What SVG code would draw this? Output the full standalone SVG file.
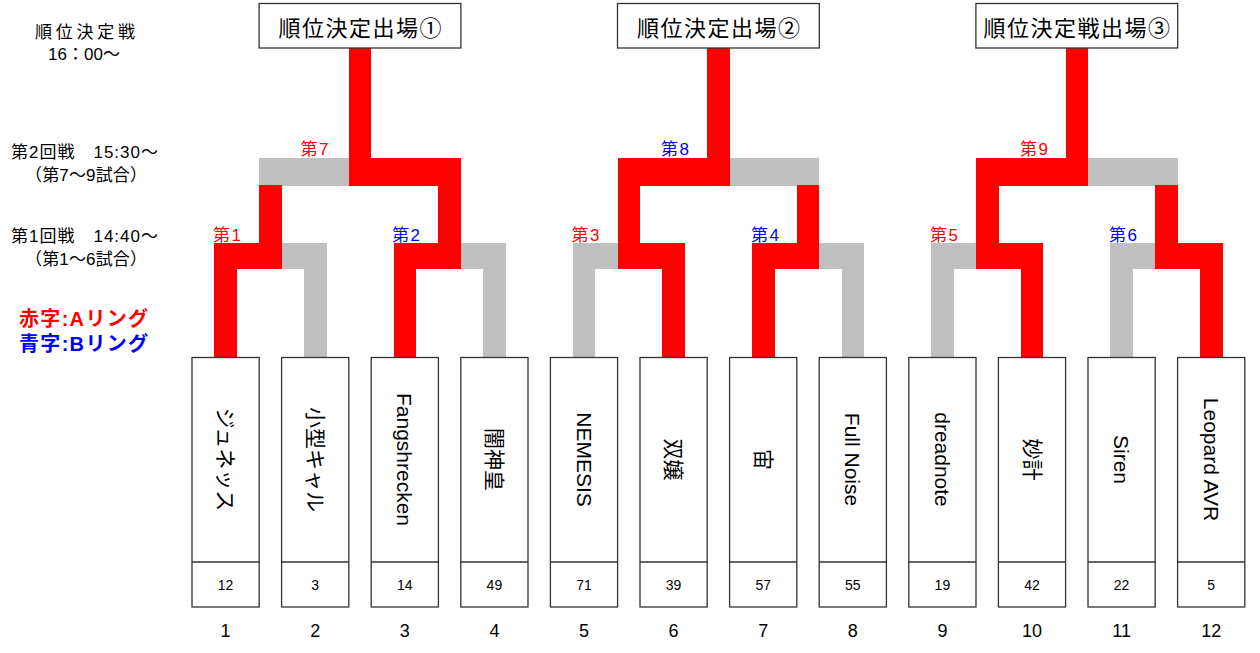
<svg xmlns="http://www.w3.org/2000/svg" width="1260" height="653" viewBox="0 0 1260 653">
<style>
text{font-family:"Liberation Sans","Noto Sans CJK JP",sans-serif;fill:#000}
.g{fill:#BFBFBF}
.r{fill:#FF0000}
.box{fill:#fff;stroke:#333;stroke-width:1.3}
.name{font-size:21px;text-anchor:middle;dominant-baseline:central}
.seed{font-size:14px;text-anchor:middle;dominant-baseline:central}
.pos{font-size:18px;text-anchor:middle}
.lbl{font-size:17px;letter-spacing:1.5px}
.red{fill:#FF0000}
.blue{fill:#0000FF}
.side{font-size:17px;text-anchor:middle}
.top{font-size:22px;text-anchor:middle;dominant-baseline:central;letter-spacing:1.5px;font-family:"Noto Sans CJK JP","Liberation Sans",sans-serif}
</style>
<rect width="1260" height="653" fill="#fff"/>

<g id="connectors" shape-rendering="crispEdges">
  <rect class="g" x="214.3" y="243" width="112.2" height="26"/>
  <rect class="g" x="393.5" y="243" width="112.2" height="26"/>
  <rect class="g" x="572.7" y="243" width="112.2" height="26"/>
  <rect class="g" x="751.9" y="243" width="112.2" height="26"/>
  <rect class="g" x="931.1" y="243" width="112.2" height="26"/>
  <rect class="g" x="1110.3" y="243" width="112.2" height="26"/>
  <rect class="g" x="259.1" y="158" width="201.8" height="28"/>
  <rect class="g" x="617.5" y="158" width="201.8" height="28"/>
  <rect class="g" x="975.9" y="158" width="201.8" height="28"/>
  <rect class="g" x="303.9" y="268" width="22.6" height="89.5"/>
  <rect class="g" x="483.1" y="268" width="22.6" height="89.5"/>
  <rect class="g" x="572.7" y="268" width="22.6" height="89.5"/>
  <rect class="g" x="841.5" y="268" width="22.6" height="89.5"/>
  <rect class="g" x="931.1" y="268" width="22.6" height="89.5"/>
  <rect class="g" x="1110.3" y="268" width="22.6" height="89.5"/>
  <rect class="r" x="214.3" y="268" width="22.6" height="89.5"/>
  <rect class="r" x="393.5" y="268" width="22.6" height="89.5"/>
  <rect class="r" x="662.3" y="268" width="22.6" height="89.5"/>
  <rect class="r" x="751.9" y="268" width="22.6" height="89.5"/>
  <rect class="r" x="1020.7" y="268" width="22.6" height="89.5"/>
  <rect class="r" x="1199.9" y="268" width="22.6" height="89.5"/>
  <rect class="r" x="214.3" y="243" width="67.4" height="26"/>
  <rect class="r" x="393.5" y="243" width="67.4" height="26"/>
  <rect class="r" x="617.5" y="243" width="67.4" height="26"/>
  <rect class="r" x="751.9" y="243" width="67.4" height="26"/>
  <rect class="r" x="975.9" y="243" width="67.4" height="26"/>
  <rect class="r" x="1155.1" y="243" width="67.4" height="26"/>
  <rect class="r" x="259.1" y="185" width="22.6" height="59"/>
  <rect class="r" x="438.3" y="185" width="22.6" height="59"/>
  <rect class="r" x="617.5" y="185" width="22.6" height="59"/>
  <rect class="r" x="796.7" y="185" width="22.6" height="59"/>
  <rect class="r" x="975.9" y="185" width="22.6" height="59"/>
  <rect class="r" x="1155.1" y="185" width="22.6" height="59"/>
  <rect class="r" x="348.7" y="158" width="112.2" height="28"/>
  <rect class="r" x="617.5" y="158" width="112.2" height="28"/>
  <rect class="r" x="975.9" y="158" width="112.2" height="28"/>
  <rect class="r" x="348.7" y="48" width="22.6" height="111"/>
  <rect class="r" x="707.1" y="48" width="22.6" height="111"/>
  <rect class="r" x="1065.5" y="48" width="22.6" height="111"/>
</g>

<g id="match-labels" class="lbl">
  <text class="red" x="213" y="240.5">第1</text>
  <text class="blue" x="392" y="240.5">第2</text>
  <text class="red" x="571.5" y="240.5">第3</text>
  <text class="blue" x="751" y="240.5">第4</text>
  <text class="red" x="930" y="240.5">第5</text>
  <text class="blue" x="1109" y="240.5">第6</text>
  <text class="red" x="300.5" y="155">第7</text>
  <text class="blue" x="661" y="155">第8</text>
  <text class="red" x="1020" y="155">第9</text>
</g>

<g id="legend">
  <text class="side" x="85" y="38" textLength="100" lengthAdjust="spacing">順位決定戦</text>
  <text class="side" x="84" y="60">16：00～</text>
  <text class="side" x="84.5" y="158" textLength="147" lengthAdjust="spacing">第2回戦　15:30～</text>
  <text class="side" x="86" y="181" textLength="122" lengthAdjust="spacing">（第7～9試合）</text>
  <text class="side" x="84.5" y="241.5" textLength="147" lengthAdjust="spacing">第1回戦　14:40～</text>
  <text class="side" x="86" y="264.5" textLength="122" lengthAdjust="spacing">（第1～6試合）</text>
  <text class="side red" x="83.5" y="326" style="font-size:20px;font-weight:bold" textLength="129" lengthAdjust="spacing">赤字:Aリング</text>
  <text class="side blue" x="83.5" y="351" style="font-size:20px;font-weight:bold" textLength="129" lengthAdjust="spacing">青字:Bリング</text>
</g>

<g id="final1"><rect class="box" x="259.1" y="3.5" width="201.8" height="44.5"/><text class="top" x="360.75" y="25.5">順位決定出場①</text></g>
<g id="final2"><rect class="box" x="617.5" y="3.5" width="201.8" height="44.5"/><text class="top" x="719.15" y="25.5">順位決定出場②</text></g>
<g id="final3"><rect class="box" x="975.9" y="3.5" width="201.8" height="44.5"/><text class="top" x="1077.55" y="25.5">順位決定戦出場③</text></g>

<g id="team1"><rect class="box" x="192" y="357.5" width="67.2" height="249.5"/><line x1="192" y1="562" x2="259.2" y2="562" stroke="#333" stroke-width="1.3"/><text class="name" transform="translate(225.6,459.5) rotate(90)">ジュネッス</text><text class="seed" x="225.6" y="584.5">12</text><text class="pos" x="225.6" y="637">1</text></g>
<g id="team2"><rect class="box" x="281.6" y="357.5" width="67.2" height="249.5"/><line x1="281.6" y1="562" x2="348.8" y2="562" stroke="#333" stroke-width="1.3"/><text class="name" transform="translate(315.2,459.5) rotate(90)">小型キャル</text><text class="seed" x="315.2" y="584.5">3</text><text class="pos" x="315.2" y="637">2</text></g>
<g id="team3"><rect class="box" x="371.2" y="357.5" width="67.2" height="249.5"/><line x1="371.2" y1="562" x2="438.4" y2="562" stroke="#333" stroke-width="1.3"/><text class="name" transform="translate(404.8,459.5) rotate(90)">Fangshrecken</text><text class="seed" x="404.8" y="584.5">14</text><text class="pos" x="404.8" y="637">3</text></g>
<g id="team4"><rect class="box" x="460.8" y="357.5" width="67.2" height="249.5"/><line x1="460.8" y1="562" x2="528" y2="562" stroke="#333" stroke-width="1.3"/><text class="name" transform="translate(494.4,459.5) rotate(90)">闇神皇</text><text class="seed" x="494.4" y="584.5">49</text><text class="pos" x="494.4" y="637">4</text></g>
<g id="team5"><rect class="box" x="550.4" y="357.5" width="67.2" height="249.5"/><line x1="550.4" y1="562" x2="617.6" y2="562" stroke="#333" stroke-width="1.3"/><text class="name" transform="translate(584,459.5) rotate(90)">NEMESIS</text><text class="seed" x="584" y="584.5">71</text><text class="pos" x="584" y="637">5</text></g>
<g id="team6"><rect class="box" x="640" y="357.5" width="67.2" height="249.5"/><line x1="640" y1="562" x2="707.2" y2="562" stroke="#333" stroke-width="1.3"/><text class="name" transform="translate(673.6,459.5) rotate(90)">双嬢</text><text class="seed" x="673.6" y="584.5">39</text><text class="pos" x="673.6" y="637">6</text></g>
<g id="team7"><rect class="box" x="729.6" y="357.5" width="67.2" height="249.5"/><line x1="729.6" y1="562" x2="796.8" y2="562" stroke="#333" stroke-width="1.3"/><text class="name" transform="translate(763.2,459.5) rotate(90)">宙</text><text class="seed" x="763.2" y="584.5">57</text><text class="pos" x="763.2" y="637">7</text></g>
<g id="team8"><rect class="box" x="819.2" y="357.5" width="67.2" height="249.5"/><line x1="819.2" y1="562" x2="886.4" y2="562" stroke="#333" stroke-width="1.3"/><text class="name" transform="translate(852.8,459.5) rotate(90)">Full Noise</text><text class="seed" x="852.8" y="584.5">55</text><text class="pos" x="852.8" y="637">8</text></g>
<g id="team9"><rect class="box" x="908.8" y="357.5" width="67.2" height="249.5"/><line x1="908.8" y1="562" x2="976" y2="562" stroke="#333" stroke-width="1.3"/><text class="name" transform="translate(942.4,459.5) rotate(90)">dreadnote</text><text class="seed" x="942.4" y="584.5">19</text><text class="pos" x="942.4" y="637">9</text></g>
<g id="team10"><rect class="box" x="998.4" y="357.5" width="67.2" height="249.5"/><line x1="998.4" y1="562" x2="1065.6" y2="562" stroke="#333" stroke-width="1.3"/><text class="name" transform="translate(1032,459.5) rotate(90)">妙計</text><text class="seed" x="1032" y="584.5">42</text><text class="pos" x="1032" y="637">10</text></g>
<g id="team11"><rect class="box" x="1088" y="357.5" width="67.2" height="249.5"/><line x1="1088" y1="562" x2="1155.2" y2="562" stroke="#333" stroke-width="1.3"/><text class="name" transform="translate(1121.6,459.5) rotate(90)">Siren</text><text class="seed" x="1121.6" y="584.5">22</text><text class="pos" x="1121.6" y="637">11</text></g>
<g id="team12"><rect class="box" x="1177.6" y="357.5" width="67.2" height="249.5"/><line x1="1177.6" y1="562" x2="1244.8" y2="562" stroke="#333" stroke-width="1.3"/><text class="name" transform="translate(1211.2,459.5) rotate(90)">Leopard AVR</text><text class="seed" x="1211.2" y="584.5">5</text><text class="pos" x="1211.2" y="637">12</text></g>
</svg>
